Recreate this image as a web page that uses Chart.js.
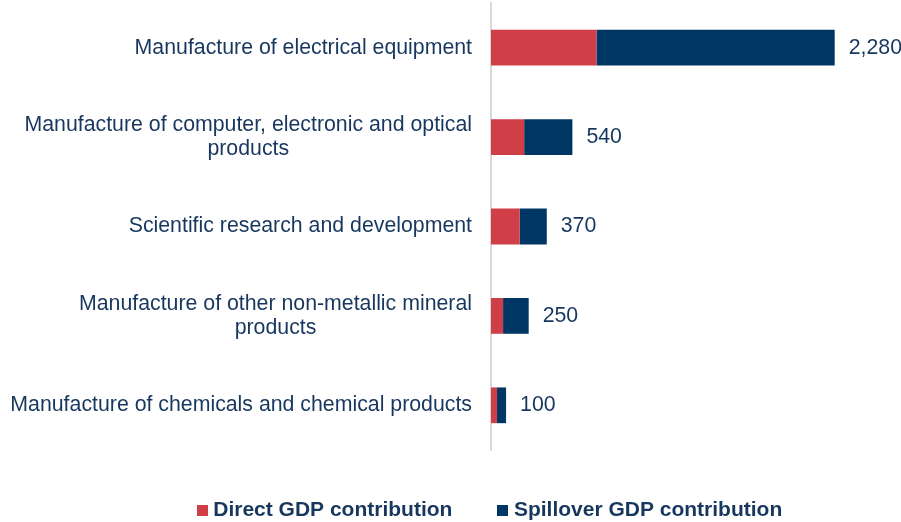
<!DOCTYPE html>
<html>
<head>
<meta charset="utf-8">
<script src="https://cdn.jsdelivr.net/npm/chart.js@4/dist/chart.umd.min.js"></script>
<style>
html,body{margin:0;padding:0;background:#fff;}
#wrap{width:901px;height:522px;position:relative;}
</style>
</head>
<body>
<div id="wrap"><canvas id="c" width="901" height="522"></canvas></div>
<script>
const categories = [
  ["Manufacture of electrical equipment"],
  ["Manufacture of computer, electronic and optical", "products"],
  ["Scientific research and development"],
  ["Manufacture of other non-metallic mineral", "products"],
  ["Manufacture of chemicals and chemical products"]
];
const directGDP = [700, 220, 190, 80, 40];
const spilloverGDP = [1580, 320, 180, 170, 60];
const totalLabels = ["2,280", "540", "370", "250", "100"];
const seriesNames = ["Direct GDP contribution", "Spillover GDP contribution"];

const NAVY_TEXT = "#17375e";
const RED = "#d03e48";
const BLUE = "#003664";
const FONT = "'Liberation Sans', Arial, sans-serif";

function makeBox(color) {
  const c = document.createElement("canvas");
  c.width = 11; c.height = 11;
  const g = c.getContext("2d");
  g.fillStyle = color;
  g.fillRect(0, 0, 11, 11);
  return c;
}
const legendBoxes = [makeBox(RED), makeBox(BLUE)];

const labelPlugin = {
  id: "labelPlugin",
  afterDatasetsDraw(chart) {
    const ctx = chart.ctx;
    const x = chart.scales.x, y = chart.scales.y;
    ctx.save();
    ctx.font = "21.3px " + FONT;
    ctx.fillStyle = NAVY_TEXT;
    ctx.textBaseline = "middle";
    categories.forEach((lines, i) => {
      const cy = y.getPixelForValue(i);
      const widths = lines.map(l => ctx.measureText(l).width);
      const maxW = Math.max(...widths);
      const rightEdge = chart.chartArea.left - 19;
      const cx = rightEdge - maxW / 2;
      const lh = 24;
      const startY = cy - (lines.length - 1) * lh / 2;
      ctx.textAlign = "center";
      lines.forEach((l, k) => ctx.fillText(l, cx, startY + k * lh));
      const total = directGDP[i] + spilloverGDP[i];
      ctx.textAlign = "left";
      ctx.fillText(totalLabels[i], x.getPixelForValue(total) + 14, cy);
    });
    ctx.restore();
  }
};

new Chart(document.getElementById("c"), {
  type: "bar",
  data: {
    labels: categories.map(c => c.join(" ")),
    datasets: [
      { label: seriesNames[0], data: directGDP, backgroundColor: RED, borderWidth: 0,
        barPercentage: 0.4, categoryPercentage: 1 },
      { label: seriesNames[1], data: spilloverGDP, backgroundColor: BLUE, borderWidth: 0,
        barPercentage: 0.4, categoryPercentage: 1 }
    ]
  },
  options: {
    indexAxis: "y",
    responsive: false,
    animation: false,
    devicePixelRatio: 1,
    layout: { padding: { left: 86, right: 3, top: 3, bottom: -9 } },
    scales: {
      x: { stacked: true, min: 0, max: 2700, display: false },
      y: {
        stacked: true,
        ticks: { display: false },
        grid: { display: false, drawTicks: false },
        border: { display: true, color: "#d9d9d9", width: 2 },
        afterFit(s) { s.width = 405; }
      }
    },
    plugins: {
      legend: {
        position: "bottom",
        labels: {
          usePointStyle: true,
          boxWidth: 1, boxHeight: 11,
          padding: 50,
          color: NAVY_TEXT,
          font: { family: FONT, size: 21, weight: "bold" },
          generateLabels(chart) {
            const items = Chart.defaults.plugins.legend.labels.generateLabels(chart);
            items.forEach((it, i) => { it.pointStyle = legendBoxes[i]; });
            return items;
          }
        }
      },
      tooltip: { enabled: false }
    }
  },
  plugins: [labelPlugin]
});
</script>
</body>
</html>
